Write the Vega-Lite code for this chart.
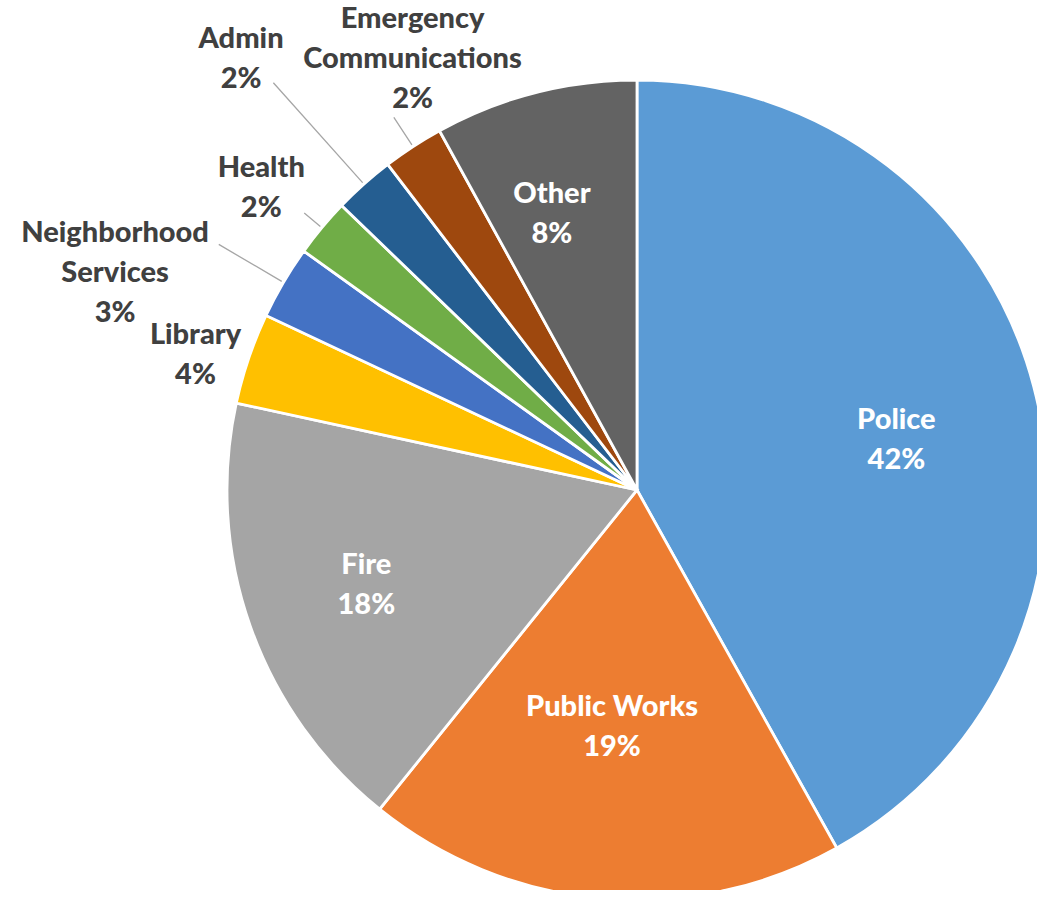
{
  "$schema": "https://vega.github.io/schema/vega-lite/v6.json",
  "width": 800,
  "height": 800,
  "autosize": "none",
  "padding": {"left": 237, "top": 90, "right": 0, "bottom": 0},
  "background": "white",
  "config": {"view": {"stroke": null}, "text": {"font": "Lato", "fontSize": 29, "fontWeight": 900, "lineBreak": "\n", "lineHeight": 40, "align": "center", "baseline": "middle"}},
  "data": {
    "values": [
      {"name": "Police", "value": 41.9, "label": "Police\n42%"},
      {"name": "Public Works", "value": 18.9, "label": "Public Works\n19%"},
      {"name": "Fire", "value": 17.6, "label": "Fire\n18%"},
      {"name": "Library", "value": 3.6, "label": "Library\n4%"},
      {"name": "Neighborhood Services", "value": 2.9, "label": "Neighborhood\nServices\n3%"},
      {"name": "Health", "value": 2.3, "label": "Health\n2%"},
      {"name": "Admin", "value": 2.4, "label": "Admin\n2%"},
      {"name": "Emergency Communications", "value": 2.4, "label": "Emergency\nCommunications\n2%"},
      {"name": "Other", "value": 8.0, "label": "Other\n8%"}
    ]
  },
  "transform": [
    {"stack": "value", "groupby": [], "as": ["v0", "v1"]},
    {"calculate": "(datum.v0 + datum.v1) / 2", "as": "mid"}
  ],
  "layer": [
    {
      "mark": {"type": "arc", "outerRadius": 410, "stroke": "white", "strokeWidth": 2.8},
      "encoding": {
        "theta": {"field": "v0", "type": "quantitative", "scale": {"domain": [0, 100]}},
        "theta2": {"field": "v1"},
        "color": {
          "field": "name", "type": "nominal", "legend": null,
          "scale": {
            "domain": ["Police", "Public Works", "Fire", "Library", "Neighborhood Services", "Health", "Admin", "Emergency Communications", "Other"],
            "range": ["#5B9BD5", "#ED7D31", "#A5A5A5", "#FFC000", "#4472C4", "#70AD47", "#255E91", "#9E480E", "#636363"]
          }
        }
      }
    },
    {
      "transform": [{"filter": "datum.name == 'Neighborhood Services'"}],
      "mark": {"type": "arc", "radius": 412, "radius2": 485, "stroke": "#A6A6A6", "strokeWidth": 1.3, "fill": null},
      "encoding": {"theta": {"field": "mid", "type": "quantitative", "scale": {"domain": [0, 100]}}, "theta2": {"field": "mid"}}
    },
    {
      "transform": [{"filter": "datum.name == 'Health'"}],
      "mark": {"type": "arc", "radius": 412, "radius2": 433, "stroke": "#A6A6A6", "strokeWidth": 1.3, "fill": null},
      "encoding": {"theta": {"field": "mid", "type": "quantitative", "scale": {"domain": [0, 100]}}, "theta2": {"field": "mid"}}
    },
    {
      "transform": [{"filter": "datum.name == 'Admin'"}],
      "mark": {"type": "arc", "radius": 412, "radius2": 546, "stroke": "#A6A6A6", "strokeWidth": 1.3, "fill": null},
      "encoding": {"theta": {"field": "mid", "type": "quantitative", "scale": {"domain": [0, 100]}}, "theta2": {"field": "mid"}}
    },
    {
      "transform": [{"filter": "datum.name == 'Emergency Communications'"}],
      "mark": {"type": "arc", "radius": 412, "radius2": 445, "stroke": "#A6A6A6", "strokeWidth": 1.3, "fill": null},
      "encoding": {"theta": {"field": "mid", "type": "quantitative", "scale": {"domain": [0, 100]}}, "theta2": {"field": "mid"}}
    },
    {
      "transform": [{"filter": "datum.name == 'Police'"}],
      "mark": {"type": "text", "radius": 268, "dy": -3, "fill": "white"},
      "encoding": {"theta": {"field": "mid", "type": "quantitative", "stack": null, "scale": {"domain": [0, 100]}}, "text": {"field": "label"}}
    },
    {
      "transform": [{"filter": "datum.name == 'Public Works'"}],
      "mark": {"type": "text", "radius": 236, "dx": -5, "dy": -18, "fill": "white"},
      "encoding": {"theta": {"field": "mid", "type": "quantitative", "stack": null, "scale": {"domain": [0, 100]}}, "text": {"field": "label"}}
    },
    {
      "transform": [{"filter": "datum.name == 'Fire'"}],
      "mark": {"type": "text", "radius": 287, "dy": -21, "fill": "white"},
      "encoding": {"theta": {"field": "mid", "type": "quantitative", "stack": null, "scale": {"domain": [0, 100]}}, "text": {"field": "label"}}
    },
    {
      "transform": [{"filter": "datum.name == 'Other'"}],
      "mark": {"type": "text", "radius": 290, "dx": -13, "dy": -15, "fill": "white"},
      "encoding": {"theta": {"field": "mid", "type": "quantitative", "stack": null, "scale": {"domain": [0, 100]}}, "text": {"field": "label"}}
    },
    {
      "transform": [{"filter": "datum.name == 'Library'"}],
      "mark": {"type": "text", "radius": 463, "dx": -3, "dy": -6, "fill": "#404040"},
      "encoding": {"theta": {"field": "mid", "type": "quantitative", "stack": null, "scale": {"domain": [0, 100]}}, "text": {"field": "label"}}
    },
    {
      "transform": [{"filter": "datum.name == 'Neighborhood Services'"}],
      "mark": {"type": "text", "radius": 560, "dx": -39, "dy": 27, "fill": "#404040"},
      "encoding": {"theta": {"field": "mid", "type": "quantitative", "stack": null, "scale": {"domain": [0, 100]}}, "text": {"field": "label"}}
    },
    {
      "transform": [{"filter": "datum.name == 'Health'"}],
      "mark": {"type": "text", "radius": 485, "dx": -3, "dy": -12, "fill": "#404040"},
      "encoding": {"theta": {"field": "mid", "type": "quantitative", "stack": null, "scale": {"domain": [0, 100]}}, "text": {"field": "label"}}
    },
    {
      "transform": [{"filter": "datum.name == 'Admin'"}],
      "mark": {"type": "text", "radius": 590, "dx": -3, "dy": -11, "fill": "#404040"},
      "encoding": {"theta": {"field": "mid", "type": "quantitative", "stack": null, "scale": {"domain": [0, 100]}}, "text": {"field": "label"}}
    },
    {
      "transform": [{"filter": "datum.name == 'Emergency Communications'"}],
      "mark": {"type": "text", "radius": 515, "dx": 57, "dy": -40, "fill": "#404040"},
      "encoding": {"theta": {"field": "mid", "type": "quantitative", "stack": null, "scale": {"domain": [0, 100]}}, "text": {"field": "label"}}
    }
  ]
}
